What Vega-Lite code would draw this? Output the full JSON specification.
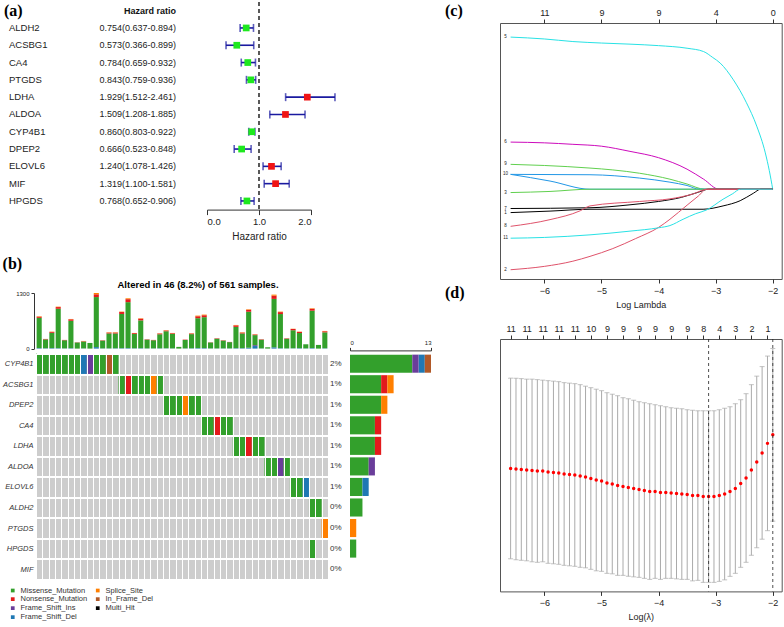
{
"$schema": "https://vega.github.io/schema/vega-lite/v6.json",
"padding": {"left": 2, "top": 1, "right": 1, "bottom": 1},
"background": "white",
"config": {
  "font": "Liberation Sans",
  "view": {"stroke": null},
  "axis": {"labelColor": "#222", "titleColor": "#222", "tickColor": "#333", "domainColor": "#333", "grid": false, "labelFont": "Liberation Sans", "titleFont": "Liberation Sans", "titleFontWeight": "normal"},
  "title": {"font": "Liberation Sans", "color": "black"}
},
"datasets": {
  "fp": [
    {"g": "ALDH2", "hr": 0.754, "lo": 0.637, "hi": 0.894, "txt": "0.754(0.637-0.894)"},
    {"g": "ACSBG1", "hr": 0.573, "lo": 0.366, "hi": 0.899, "txt": "0.573(0.366-0.899)"},
    {"g": "CA4", "hr": 0.784, "lo": 0.659, "hi": 0.932, "txt": "0.784(0.659-0.932)"},
    {"g": "PTGDS", "hr": 0.843, "lo": 0.759, "hi": 0.936, "txt": "0.843(0.759-0.936)"},
    {"g": "LDHA", "hr": 1.929, "lo": 1.512, "hi": 2.461, "txt": "1.929(1.512-2.461)"},
    {"g": "ALDOA", "hr": 1.509, "lo": 1.208, "hi": 1.885, "txt": "1.509(1.208-1.885)"},
    {"g": "CYP4B1", "hr": 0.860, "lo": 0.803, "hi": 0.922, "txt": "0.860(0.803-0.922)"},
    {"g": "DPEP2", "hr": 0.666, "lo": 0.523, "hi": 0.848, "txt": "0.666(0.523-0.848)"},
    {"g": "ELOVL6", "hr": 1.240, "lo": 1.078, "hi": 1.426, "txt": "1.240(1.078-1.426)"},
    {"g": "MIF", "hr": 1.319, "lo": 1.100, "hi": 1.581, "txt": "1.319(1.100-1.581)"},
    {"g": "HPGDS", "hr": 0.768, "lo": 0.652, "hi": 0.906, "txt": "0.768(0.652-0.906)"}
  ],
  "mx": [
    {"g": "CYP4B1", "s": 1, "t": "Missense_Mutation"},
    {"g": "CYP4B1", "s": 2, "t": "Missense_Mutation"},
    {"g": "CYP4B1", "s": 3, "t": "Missense_Mutation"},
    {"g": "CYP4B1", "s": 4, "t": "Missense_Mutation"},
    {"g": "CYP4B1", "s": 5, "t": "Missense_Mutation"},
    {"g": "CYP4B1", "s": 6, "t": "Missense_Mutation"},
    {"g": "CYP4B1", "s": 7, "t": "Missense_Mutation"},
    {"g": "CYP4B1", "s": 8, "t": "Frame_Shift_Del"},
    {"g": "CYP4B1", "s": 9, "t": "Frame_Shift_Ins"},
    {"g": "CYP4B1", "s": 10, "t": "Missense_Mutation"},
    {"g": "CYP4B1", "s": 11, "t": "Missense_Mutation"},
    {"g": "CYP4B1", "s": 12, "t": "In_Frame_Del"},
    {"g": "CYP4B1", "s": 13, "t": "Missense_Mutation"},
    {"g": "ACSBG1", "s": 14, "t": "Missense_Mutation"},
    {"g": "ACSBG1", "s": 15, "t": "Nonsense_Mutation"},
    {"g": "ACSBG1", "s": 16, "t": "Missense_Mutation"},
    {"g": "ACSBG1", "s": 17, "t": "Missense_Mutation"},
    {"g": "ACSBG1", "s": 18, "t": "Missense_Mutation"},
    {"g": "ACSBG1", "s": 19, "t": "Splice_Site"},
    {"g": "ACSBG1", "s": 20, "t": "Missense_Mutation"},
    {"g": "DPEP2", "s": 21, "t": "Missense_Mutation"},
    {"g": "DPEP2", "s": 22, "t": "Missense_Mutation"},
    {"g": "DPEP2", "s": 23, "t": "Missense_Mutation"},
    {"g": "DPEP2", "s": 24, "t": "Splice_Site"},
    {"g": "DPEP2", "s": 25, "t": "Missense_Mutation"},
    {"g": "DPEP2", "s": 26, "t": "Missense_Mutation"},
    {"g": "CA4", "s": 27, "t": "Missense_Mutation"},
    {"g": "CA4", "s": 28, "t": "Missense_Mutation"},
    {"g": "CA4", "s": 29, "t": "Nonsense_Mutation"},
    {"g": "CA4", "s": 30, "t": "Missense_Mutation"},
    {"g": "CA4", "s": 31, "t": "Missense_Mutation"},
    {"g": "LDHA", "s": 32, "t": "Missense_Mutation"},
    {"g": "LDHA", "s": 33, "t": "Missense_Mutation"},
    {"g": "LDHA", "s": 34, "t": "Nonsense_Mutation"},
    {"g": "LDHA", "s": 35, "t": "Missense_Mutation"},
    {"g": "LDHA", "s": 36, "t": "Missense_Mutation"},
    {"g": "ALDOA", "s": 37, "t": "Missense_Mutation"},
    {"g": "ALDOA", "s": 38, "t": "Missense_Mutation"},
    {"g": "ALDOA", "s": 39, "t": "Frame_Shift_Ins"},
    {"g": "ALDOA", "s": 40, "t": "Missense_Mutation"},
    {"g": "ELOVL6", "s": 41, "t": "Missense_Mutation"},
    {"g": "ELOVL6", "s": 42, "t": "Missense_Mutation"},
    {"g": "ELOVL6", "s": 43, "t": "Frame_Shift_Del"},
    {"g": "ALDH2", "s": 44, "t": "Missense_Mutation"},
    {"g": "ALDH2", "s": 45, "t": "Missense_Mutation"},
    {"g": "PTGDS", "s": 46, "t": "Splice_Site"},
    {"g": "HPGDS", "s": 44, "t": "Missense_Mutation"}
  ],
  "tb": [
    {"s": 1, "FSD": 12, "FSI": 0, "MIS": 707, "NON": 25, "SPL": 12},
    {"s": 2, "FSD": 8, "FSI": 0, "MIS": 208, "NON": 10, "SPL": 0},
    {"s": 3, "FSD": 12, "FSI": 0, "MIS": 357, "NON": 20, "SPL": 8},
    {"s": 4, "FSD": 10, "FSI": 0, "MIS": 921, "NON": 40, "SPL": 10},
    {"s": 5, "FSD": 5, "FSI": 0, "MIS": 190, "NON": 8, "SPL": 0},
    {"s": 6, "FSD": 10, "FSI": 0, "MIS": 640, "NON": 35, "SPL": 8},
    {"s": 7, "FSD": 0, "FSI": 0, "MIS": 143, "NON": 5, "SPL": 0},
    {"s": 8, "FSD": 5, "FSI": 0, "MIS": 161, "NON": 8, "SPL": 5},
    {"s": 9, "FSD": 0, "FSI": 0, "MIS": 132, "NON": 0, "SPL": 0},
    {"s": 10, "FSD": 35, "FSI": 0, "MIS": 1170, "NON": 65, "SPL": 30},
    {"s": 11, "FSD": 5, "FSI": 0, "MIS": 182, "NON": 8, "SPL": 0},
    {"s": 12, "FSD": 5, "FSI": 0, "MIS": 349, "NON": 20, "SPL": 8},
    {"s": 13, "FSD": 8, "FSI": 0, "MIS": 346, "NON": 20, "SPL": 8},
    {"s": 14, "FSD": 10, "FSI": 0, "MIS": 800, "NON": 45, "SPL": 10},
    {"s": 15, "FSD": 12, "FSI": 0, "MIS": 1074, "NON": 70, "SPL": 20},
    {"s": 16, "FSD": 8, "FSI": 0, "MIS": 333, "NON": 20, "SPL": 5},
    {"s": 17, "FSD": 10, "FSI": 0, "MIS": 649, "NON": 40, "SPL": 10},
    {"s": 18, "FSD": 5, "FSI": 0, "MIS": 205, "NON": 8, "SPL": 0},
    {"s": 19, "FSD": 5, "FSI": 0, "MIS": 190, "NON": 8, "SPL": 0},
    {"s": 20, "FSD": 8, "FSI": 0, "MIS": 327, "NON": 18, "SPL": 5},
    {"s": 21, "FSD": 8, "FSI": 0, "MIS": 400, "NON": 15, "SPL": 5},
    {"s": 22, "FSD": 5, "FSI": 0, "MIS": 341, "NON": 15, "SPL": 5},
    {"s": 23, "FSD": 0, "FSI": 0, "MIS": 40, "NON": 0, "SPL": 0},
    {"s": 24, "FSD": 5, "FSI": 0, "MIS": 197, "NON": 8, "SPL": 0},
    {"s": 25, "FSD": 8, "FSI": 0, "MIS": 330, "NON": 15, "SPL": 5},
    {"s": 26, "FSD": 12, "FSI": 0, "MIS": 699, "NON": 45, "SPL": 15},
    {"s": 27, "FSD": 12, "FSI": 0, "MIS": 723, "NON": 45, "SPL": 15},
    {"s": 28, "FSD": 5, "FSI": 0, "MIS": 138, "NON": 5, "SPL": 0},
    {"s": 29, "FSD": 5, "FSI": 0, "MIS": 226, "NON": 10, "SPL": 0},
    {"s": 30, "FSD": 5, "FSI": 0, "MIS": 182, "NON": 8, "SPL": 0},
    {"s": 31, "FSD": 5, "FSI": 0, "MIS": 146, "NON": 5, "SPL": 0},
    {"s": 32, "FSD": 10, "FSI": 0, "MIS": 498, "NON": 35, "SPL": 10},
    {"s": 33, "FSD": 10, "FSI": 0, "MIS": 344, "NON": 20, "SPL": 8},
    {"s": 34, "FSD": 20, "FSI": 0, "MIS": 842, "NON": 45, "SPL": 12},
    {"s": 35, "FSD": 60, "FSI": 20, "MIS": 235, "NON": 15, "SPL": 5},
    {"s": 36, "FSD": 5, "FSI": 0, "MIS": 203, "NON": 10, "SPL": 0},
    {"s": 37, "FSD": 0, "FSI": 0, "MIS": 31, "NON": 0, "SPL": 0},
    {"s": 38, "FSD": 30, "FSI": 0, "MIS": 1132, "NON": 75, "SPL": 25},
    {"s": 39, "FSD": 10, "FSI": 0, "MIS": 798, "NON": 45, "SPL": 12},
    {"s": 40, "FSD": 5, "FSI": 0, "MIS": 226, "NON": 10, "SPL": 0},
    {"s": 41, "FSD": 10, "FSI": 0, "MIS": 419, "NON": 30, "SPL": 8},
    {"s": 42, "FSD": 10, "FSI": 0, "MIS": 354, "NON": 25, "SPL": 8},
    {"s": 43, "FSD": 5, "FSI": 0, "MIS": 96, "NON": 0, "SPL": 0},
    {"s": 44, "FSD": 12, "FSI": 0, "MIS": 874, "NON": 45, "SPL": 12},
    {"s": 45, "FSD": 0, "FSI": 0, "MIS": 86, "NON": 0, "SPL": 0},
    {"s": 46, "FSD": 8, "FSI": 0, "MIS": 372, "NON": 25, "SPL": 8}
  ],
  "lasso": [
    {"v": "5", "x": -6.59, "y": 0.410}, {"v": "5", "x": -6.0, "y": 0.405}, {"v": "5", "x": -5.5, "y": 0.398}, {"v": "5", "x": -5.0, "y": 0.394}, {"v": "5", "x": -4.5, "y": 0.391}, {"v": "5", "x": -4.0, "y": 0.387}, {"v": "5", "x": -3.5, "y": 0.380}, {"v": "5", "x": -3.21, "y": 0.371}, {"v": "5", "x": -3.05, "y": 0.355}, {"v": "5", "x": -2.92, "y": 0.340}, {"v": "5", "x": -2.69, "y": 0.295}, {"v": "5", "x": -2.46, "y": 0.233}, {"v": "5", "x": -2.28, "y": 0.170}, {"v": "5", "x": -2.13, "y": 0.098}, {"v": "5", "x": -2.06, "y": 0.05}, {"v": "5", "x": -2.0, "y": 0},
    {"v": "6", "x": -6.59, "y": 0.127}, {"v": "6", "x": -6.0, "y": 0.125}, {"v": "6", "x": -5.5, "y": 0.121}, {"v": "6", "x": -5.0, "y": 0.116}, {"v": "6", "x": -4.5, "y": 0.102}, {"v": "6", "x": -4.0, "y": 0.085}, {"v": "6", "x": -3.5, "y": 0.054}, {"v": "6", "x": -3.21, "y": 0.027}, {"v": "6", "x": -2.94, "y": 0}, {"v": "6", "x": -2.0, "y": 0},
    {"v": "9", "x": -6.59, "y": 0.067}, {"v": "9", "x": -6.0, "y": 0.064}, {"v": "9", "x": -5.2, "y": 0.057}, {"v": "9", "x": -4.8, "y": 0.052}, {"v": "9", "x": -4.33, "y": 0.043}, {"v": "9", "x": -3.8, "y": 0.027}, {"v": "9", "x": -3.5, "y": 0.014}, {"v": "9", "x": -3.19, "y": 0}, {"v": "9", "x": -2.0, "y": 0},
    {"v": "10", "x": -6.59, "y": 0.040}, {"v": "10", "x": -5.2, "y": 0.039}, {"v": "10", "x": -4.33, "y": 0.030}, {"v": "10", "x": -3.8, "y": 0.019}, {"v": "10", "x": -3.5, "y": 0.010}, {"v": "10", "x": -3.28, "y": 0}, {"v": "10", "x": -2.0, "y": 0},
    {"v": "4", "x": -6.59, "y": 0.040}, {"v": "4", "x": -5.9, "y": 0.022}, {"v": "4", "x": -5.2, "y": 0}, {"v": "4", "x": -2.0, "y": 0},
    {"v": "3", "x": -6.59, "y": -0.009}, {"v": "3", "x": -5.9, "y": -0.006}, {"v": "3", "x": -5.2, "y": 0}, {"v": "3", "x": -2.0, "y": 0},
    {"v": "7", "x": -6.59, "y": -0.052}, {"v": "7", "x": -5.2, "y": -0.050}, {"v": "7", "x": -4.5, "y": -0.042}, {"v": "7", "x": -4.0, "y": -0.033}, {"v": "7", "x": -3.6, "y": -0.022}, {"v": "7", "x": -3.3, "y": -0.008}, {"v": "7", "x": -3.12, "y": 0}, {"v": "7", "x": -2.0, "y": 0},
    {"v": "1", "x": -6.59, "y": -0.063}, {"v": "1", "x": -5.9, "y": -0.059}, {"v": "1", "x": -5.2, "y": -0.054}, {"v": "1", "x": -3.22, "y": -0.054}, {"v": "1", "x": -2.87, "y": -0.045}, {"v": "1", "x": -2.57, "y": -0.031}, {"v": "1", "x": -2.34, "y": -0.011}, {"v": "1", "x": -2.21, "y": 0}, {"v": "1", "x": -2.0, "y": 0},
    {"v": "8", "x": -6.59, "y": -0.100}, {"v": "8", "x": -5.9, "y": -0.082}, {"v": "8", "x": -5.37, "y": -0.058}, {"v": "8", "x": -5.2, "y": -0.045}, {"v": "8", "x": -4.33, "y": -0.033}, {"v": "8", "x": -3.8, "y": -0.026}, {"v": "8", "x": -3.4, "y": -0.013}, {"v": "8", "x": -3.15, "y": 0}, {"v": "8", "x": -2.0, "y": 0},
    {"v": "2", "x": -6.59, "y": -0.217}, {"v": "2", "x": -6.0, "y": -0.208}, {"v": "2", "x": -5.5, "y": -0.194}, {"v": "2", "x": -5.2, "y": -0.181}, {"v": "2", "x": -4.8, "y": -0.160}, {"v": "2", "x": -4.4, "y": -0.133}, {"v": "2", "x": -4.0, "y": -0.103}, {"v": "2", "x": -3.8, "y": -0.081}, {"v": "2", "x": -3.5, "y": -0.043}, {"v": "2", "x": -3.3, "y": -0.018}, {"v": "2", "x": -3.16, "y": 0}, {"v": "2", "x": -2.0, "y": 0},
    {"v": "11", "x": -6.59, "y": -0.132}, {"v": "11", "x": -6.0, "y": -0.130}, {"v": "11", "x": -5.2, "y": -0.123}, {"v": "11", "x": -4.5, "y": -0.113}, {"v": "11", "x": -4.0, "y": -0.104}, {"v": "11", "x": -3.8, "y": -0.098}, {"v": "11", "x": -3.57, "y": -0.081}, {"v": "11", "x": -3.35, "y": -0.066}, {"v": "11", "x": -3.16, "y": -0.056}, {"v": "11", "x": -2.87, "y": -0.027}, {"v": "11", "x": -2.7, "y": -0.012}, {"v": "11", "x": -2.57, "y": 0}, {"v": "11", "x": -2.0, "y": 0}
  ],
  "cv": [
    {"x": -6.590, "m": 12.291, "lo": 12.111, "hi": 12.471},
    {"x": -6.496, "m": 12.290, "lo": 12.109, "hi": 12.471},
    {"x": -6.403, "m": 12.289, "lo": 12.108, "hi": 12.470},
    {"x": -6.309, "m": 12.288, "lo": 12.107, "hi": 12.469},
    {"x": -6.215, "m": 12.287, "lo": 12.105, "hi": 12.469},
    {"x": -6.122, "m": 12.286, "lo": 12.104, "hi": 12.468},
    {"x": -6.028, "m": 12.286, "lo": 12.105, "hi": 12.467},
    {"x": -5.934, "m": 12.284, "lo": 12.102, "hi": 12.466},
    {"x": -5.840, "m": 12.283, "lo": 12.101, "hi": 12.465},
    {"x": -5.747, "m": 12.282, "lo": 12.100, "hi": 12.464},
    {"x": -5.653, "m": 12.280, "lo": 12.098, "hi": 12.462},
    {"x": -5.559, "m": 12.279, "lo": 12.097, "hi": 12.461},
    {"x": -5.466, "m": 12.278, "lo": 12.096, "hi": 12.460},
    {"x": -5.372, "m": 12.276, "lo": 12.094, "hi": 12.458},
    {"x": -5.278, "m": 12.274, "lo": 12.093, "hi": 12.455},
    {"x": -5.185, "m": 12.271, "lo": 12.090, "hi": 12.452},
    {"x": -5.091, "m": 12.268, "lo": 12.087, "hi": 12.449},
    {"x": -4.997, "m": 12.266, "lo": 12.086, "hi": 12.446},
    {"x": -4.903, "m": 12.262, "lo": 12.082, "hi": 12.442},
    {"x": -4.810, "m": 12.260, "lo": 12.081, "hi": 12.439},
    {"x": -4.716, "m": 12.257, "lo": 12.078, "hi": 12.436},
    {"x": -4.622, "m": 12.255, "lo": 12.078, "hi": 12.432},
    {"x": -4.529, "m": 12.253, "lo": 12.076, "hi": 12.430},
    {"x": -4.435, "m": 12.251, "lo": 12.075, "hi": 12.427},
    {"x": -4.341, "m": 12.249, "lo": 12.074, "hi": 12.424},
    {"x": -4.248, "m": 12.247, "lo": 12.072, "hi": 12.422},
    {"x": -4.154, "m": 12.245, "lo": 12.070, "hi": 12.420},
    {"x": -4.060, "m": 12.245, "lo": 12.072, "hi": 12.418},
    {"x": -3.966, "m": 12.243, "lo": 12.070, "hi": 12.416},
    {"x": -3.873, "m": 12.243, "lo": 12.072, "hi": 12.414},
    {"x": -3.779, "m": 12.242, "lo": 12.072, "hi": 12.412},
    {"x": -3.685, "m": 12.241, "lo": 12.071, "hi": 12.411},
    {"x": -3.592, "m": 12.240, "lo": 12.070, "hi": 12.410},
    {"x": -3.498, "m": 12.239, "lo": 12.070, "hi": 12.408},
    {"x": -3.404, "m": 12.237, "lo": 12.067, "hi": 12.407},
    {"x": -3.311, "m": 12.237, "lo": 12.068, "hi": 12.406},
    {"x": -3.217, "m": 12.235, "lo": 12.064, "hi": 12.406},
    {"x": -3.123, "m": 12.235, "lo": 12.064, "hi": 12.406},
    {"x": -3.029, "m": 12.235, "lo": 12.064, "hi": 12.406},
    {"x": -2.936, "m": 12.237, "lo": 12.066, "hi": 12.408},
    {"x": -2.842, "m": 12.240, "lo": 12.069, "hi": 12.411},
    {"x": -2.748, "m": 12.245, "lo": 12.076, "hi": 12.414},
    {"x": -2.655, "m": 12.251, "lo": 12.082, "hi": 12.420},
    {"x": -2.561, "m": 12.261, "lo": 12.094, "hi": 12.428},
    {"x": -2.467, "m": 12.272, "lo": 12.104, "hi": 12.440},
    {"x": -2.374, "m": 12.288, "lo": 12.118, "hi": 12.458},
    {"x": -2.280, "m": 12.304, "lo": 12.133, "hi": 12.475},
    {"x": -2.186, "m": 12.322, "lo": 12.150, "hi": 12.494},
    {"x": -2.092, "m": 12.341, "lo": 12.167, "hi": 12.515},
    {"x": -1.999, "m": 12.358, "lo": 12.186, "hi": 12.530}
  ]
},
"spacing": 12,
"resolve": {"scale": {"color": "independent"}, "legend": {"color": "independent"}},
"hconcat": [
  {
    "spacing": 13,
    "resolve": {"scale": {"color": "independent"}, "legend": {"color": "independent"}},
    "vconcat": [
      {
        "bounds": "flush",
        "spacing": 31,
        "hconcat": [
          {
            "width": 140,
            "height": 207.6,
            "data": {"name": "fp"},
            "layer": [
              {
                "mark": {"type": "text", "align": "left", "fontSize": 9.5, "color": "#222"},
                "encoding": {
                  "x": {"datum": "gene", "type": "nominal", "scale": {"type": "point", "domain": ["gene", "hr"], "range": [-27, 140], "padding": 0}, "axis": null},
                  "y": {"field": "g", "type": "nominal", "scale": {"type": "point", "padding": 0.5, "domain": ["H", "ALDH2", "ACSBG1", "CA4", "PTGDS", "LDHA", "ALDOA", "CYP4B1", "DPEP2", "ELOVL6", "MIF", "HPGDS"]}, "axis": null},
                  "text": {"field": "g"}
                }
              },
              {
                "mark": {"type": "text", "align": "right", "fontSize": 9, "color": "#222"},
                "encoding": {
                  "x": {"datum": "hr", "type": "nominal", "axis": null},
                  "y": {"field": "g", "type": "nominal", "axis": null},
                  "text": {"field": "txt"}
                }
              },
              {
                "data": {"values": [{"lab": "Hazard ratio"}]},
                "mark": {"type": "text", "align": "right", "fontSize": 9, "fontWeight": "bold", "color": "#111"},
                "encoding": {
                  "x": {"datum": "hr", "type": "nominal", "axis": null},
                  "y": {"datum": "H", "type": "nominal", "axis": null},
                  "text": {"field": "lab"}
                }
              },
              {
                "data": {"values": [{"lab": "(a)"}]},
                "mark": {"type": "text", "align": "left", "dx": -5, "fontSize": 16, "fontWeight": "bold", "font": "Liberation Serif", "color": "black"},
                "encoding": {
                  "x": {"datum": "gene", "type": "nominal", "axis": null},
                  "y": {"datum": "H", "type": "nominal", "axis": null},
                  "text": {"field": "lab"}
                }
              }
            ]
          },
          {
            "width": 104,
            "height": 207.6,
            "data": {"name": "fp"},
            "layer": [
              {
                "data": {"values": [{"ref": 1}]},
                "mark": {"type": "rule", "strokeDash": [4, 3], "strokeWidth": 1.3, "color": "black"},
                "encoding": {
                  "x": {"field": "ref", "type": "quantitative", "scale": {"domain": [0, 2], "nice": false, "zero": false}, "axis": {"values": [0, 0.5, 1, 1.5, 2], "format": ".1f", "labelOverlap": false, "title": "Hazard ratio", "labelFontSize": 9.5, "titleFontSize": 10, "tickSize": 5, "labelPadding": 2, "titlePadding": 5}}
                }
              },
              {
                "mark": {"type": "rule", "color": "#1A1AA0", "strokeWidth": 1.6},
                "encoding": {
                  "x": {"field": "lo", "type": "quantitative"},
                  "x2": {"field": "hi"},
                  "y": {"field": "g", "type": "nominal", "scale": {"type": "point", "padding": 0.5, "domain": ["H", "ALDH2", "ACSBG1", "CA4", "PTGDS", "LDHA", "ALDOA", "CYP4B1", "DPEP2", "ELOVL6", "MIF", "HPGDS"]}, "axis": null}
                }
              },
              {
                "mark": {"type": "tick", "orient": "vertical", "color": "#1A1AA0", "size": 8, "thickness": 1.6},
                "encoding": {
                  "x": {"field": "lo", "type": "quantitative"},
                  "y": {"field": "g", "type": "nominal"}
                }
              },
              {
                "mark": {"type": "tick", "orient": "vertical", "color": "#1A1AA0", "size": 8, "thickness": 1.6},
                "encoding": {
                  "x": {"field": "hi", "type": "quantitative"},
                  "y": {"field": "g", "type": "nominal"}
                }
              },
              {
                "mark": {"type": "square", "size": 45, "filled": true, "opacity": 1},
                "encoding": {
                  "x": {"field": "hr", "type": "quantitative"},
                  "y": {"field": "g", "type": "nominal"},
                  "color": {"condition": {"test": "datum.hr < 1", "value": "#1EE81E"}, "value": "#F01414"}
                }
              }
            ]
          }
        ]
      },
      {
        "title": {"text": "(b)", "anchor": "start", "font": "Liberation Serif", "fontSize": 16, "fontWeight": "bold", "offset": 8, "color": "black"},
        "columns": 2,
        "bounds": "flush",
        "spacing": {"row": 4.4, "column": 22},
        "resolve": {"scale": {"color": "independent"}, "legend": {"color": "independent"}},
        "concat": [
          {
            "width": 292,
            "height": 55.6,
            "title": {"text": "Altered in 46 (8.2%) of 561 samples.", "fontSize": 9.5, "fontWeight": "bold", "anchor": "middle", "dx": 16, "offset": 1, "color": "black"},
            "data": {"name": "tb"},
            "transform": [{"fold": ["FSD", "FSI", "MIS", "NON", "SPL"], "as": ["t", "n"]}],
            "mark": {"type": "bar"},
            "encoding": {
              "x": {"field": "s", "type": "ordinal", "scale": {"paddingInner": 0.2, "paddingOuter": 0.1}, "axis": null},
              "y": {"field": "n", "type": "quantitative", "aggregate": "sum", "scale": {"domain": [0, 1300], "nice": false}, "axis": {"values": [0, 1300], "format": "d", "title": null, "labelFontSize": 6, "tickSize": 3, "labelPadding": 2, "domain": true, "offset": 2}},
              "color": {"field": "t", "type": "nominal", "scale": {"domain": ["FSD", "FSI", "MIS", "NON", "SPL"], "range": ["#1F78B4", "#6A3D9A", "#33A02C", "#E31A1C", "#FF7F00"]}, "legend": null},
              "order": {"field": "t", "type": "nominal", "sort": "ascending"}
            }
          },
          {
            "width": 81,
            "height": 55.6,
            "data": {"values": []},
            "mark": "point"
          },
          {
            "width": 292,
            "height": 226,
            "view": {"fill": "#CDCDCD", "stroke": null},
            "data": {"name": "mx"},
            "mark": {"type": "rect"},
            "encoding": {
              "x": {"field": "s", "type": "ordinal", "scale": {"paddingInner": 0, "paddingOuter": 0}, "axis": {"title": null, "labels": false, "ticks": false, "domain": false, "grid": true, "gridColor": "white", "gridWidth": 1, "tickBand": "extent", "zindex": 1}},
              "y": {"field": "g", "type": "nominal", "scale": {"domain": ["CYP4B1", "ACSBG1", "DPEP2", "CA4", "LDHA", "ALDOA", "ELOVL6", "ALDH2", "PTGDS", "HPGDS", "MIF"], "paddingInner": 0, "paddingOuter": 0}, "axis": {"title": null, "domain": false, "ticks": false, "grid": true, "gridColor": "white", "gridWidth": 2, "tickBand": "extent", "zindex": 1, "labelFontStyle": "italic", "labelFontSize": 7.5, "labelPadding": 3, "labelColor": "#333"}},
              "color": {
                "field": "t", "type": "nominal",
                "scale": {"domain": ["Missense_Mutation", "Nonsense_Mutation", "Frame_Shift_Ins", "Frame_Shift_Del", "Splice_Site", "In_Frame_Del", "Multi_Hit"], "range": ["#33A02C", "#E31A1C", "#6A3D9A", "#1F78B4", "#FF7F00", "#B15928", "#000000"]},
                "legend": {"title": null, "orient": "none", "legendX": -27, "legendY": 233, "columns": 2, "symbolType": "square", "symbolSize": 14, "symbolStrokeWidth": 0, "labelFontSize": 7.5, "labelColor": "#333", "rowPadding": 0, "columnPadding": 6, "labelOffset": 4}
              }
            }
          },
          {
            "width": 81,
            "height": 226,
            "data": {"name": "mx"},
            "transform": [{"calculate": "indexof(['Missense_Mutation','Nonsense_Mutation','Splice_Site','Frame_Shift_Ins','Frame_Shift_Del','In_Frame_Del'], datum.t)", "as": "k"}],
            "mark": {"type": "bar"},
            "encoding": {
              "y": {"field": "g", "type": "nominal", "scale": {"domain": ["CYP4B1", "ACSBG1", "DPEP2", "CA4", "LDHA", "ALDOA", "ELOVL6", "ALDH2", "PTGDS", "HPGDS", "MIF"], "paddingInner": 0.12, "paddingOuter": 0.06}, "axis": {"title": null, "domain": false, "ticks": false, "labelFontSize": 8, "labelPadding": 9, "labelColor": "#333", "labelExpr": "datum.value == 'CYP4B1' ? '2%' : (indexof(['ALDH2','PTGDS','HPGDS','MIF'], datum.value) >= 0 ? '0%' : '1%')"}},
              "x": {"aggregate": "count", "type": "quantitative", "scale": {"domain": [0, 13], "nice": false}, "axis": {"orient": "top", "values": [0, 13], "title": null, "labelFontSize": 6, "tickSize": 3, "labelPadding": 2, "offset": 3, "domain": true}},
              "color": {"field": "t", "type": "nominal", "scale": {"domain": ["Missense_Mutation", "Nonsense_Mutation", "Splice_Site", "Frame_Shift_Ins", "Frame_Shift_Del", "In_Frame_Del"], "range": ["#33A02C", "#E31A1C", "#FF7F00", "#6A3D9A", "#1F78B4", "#B15928"]}, "legend": null},
              "order": {"field": "k", "type": "quantitative", "sort": "ascending"}
            }
          }
        ]
      }
    ]
  },
  {
    "bounds": "flush",
    "spacing": 20,
    "resolve": {"scale": {"color": "independent"}, "legend": {"color": "independent"}},
    "vconcat": [
      {
        "width": 281.7,
        "height": 1,
        "data": {"values": [{"lab": "(c)"}]},
        "mark": {"type": "text", "align": "left", "baseline": "top", "fontSize": 16, "fontWeight": "bold", "font": "Liberation Serif", "color": "black"},
        "encoding": {
          "x": {"datum": -7.739, "type": "quantitative", "scale": {"domain": [-6.776, -1.843], "nice": false, "zero": false}, "axis": null},
          "text": {"field": "lab"}
        }
      },
      {
        "width": 281.7,
        "height": 256,
        "view": {"stroke": "#555", "strokeWidth": 1},
        "data": {"name": "lasso"},
        "resolve": {"axis": {"x": "independent"}},
        "layer": [
          {
            "mark": {"type": "line", "strokeWidth": 1, "interpolate": "monotone"},
            "encoding": {
              "x": {"field": "x", "type": "quantitative", "scale": {"domain": [-6.776, -1.843], "nice": false, "zero": false}, "axis": {"values": [-6, -5, -4, -3, -2], "title": "Log Lambda", "labelFontSize": 9, "titleFontSize": 9, "tickSize": 4, "domain": false, "labelPadding": 3, "titlePadding": 5}},
              "y": {"field": "y", "type": "quantitative", "scale": {"domain": [-0.242, 0.448], "nice": false, "zero": false}, "axis": {"values": [-0.2, -0.1, 0, 0.1, 0.2, 0.3, 0.4], "format": ".1f", "labelAngle": -90, "labelAlign": "center", "labelBaseline": "bottom", "title": "Coefficients", "labelFontSize": 9, "titleFontSize": 9, "tickSize": 4, "domain": false, "labelPadding": 3, "titlePadding": 8}},
              "color": {"field": "v", "type": "nominal", "scale": {"domain": ["1", "2", "3", "4", "5", "6", "7", "8", "9", "10", "11"], "range": ["#000000", "#DF536B", "#61D04F", "#2297E6", "#28E2E5", "#CD0BBC", "#000000", "#DF536B", "#61D04F", "#2297E6", "#28E2E5"]}, "legend": null}
            }
          },
          {
            "transform": [{"filter": "datum.x < -6.5 && datum.v != '4'"}],
            "mark": {"type": "text", "fontSize": 4.5, "dx": -5, "color": "#222"},
            "encoding": {
              "x": {"field": "x", "type": "quantitative", "axis": {"orient": "top", "values": [-6, -5, -4, -3, -2], "labelExpr": "datum.value < -5.5 ? '11' : datum.value < -3.5 ? '9' : datum.value < -2.5 ? '4' : '0'", "title": null, "labelFontSize": 9, "tickSize": 4, "domain": false, "labelPadding": 2}},
              "y": {"field": "y", "type": "quantitative", "axis": null},
              "text": {"field": "v"}
            }
          },
          {
            "data": {"values": [{"lab": "(d)"}]},
            "mark": {"type": "text", "align": "left", "baseline": "top", "fontSize": 16, "fontWeight": "bold", "font": "Liberation Serif", "color": "black"},
            "encoding": {
              "x": {"datum": -7.739, "type": "quantitative", "axis": null},
              "y": {"datum": -0.2581, "type": "quantitative", "axis": null},
              "text": {"field": "lab"}
            }
          }
        ]
      },
      {
        "width": 281.7,
        "height": 19.3,
        "data": {"values": []},
        "mark": "point"
      },
      {
        "width": 281.7,
        "height": 252.4,
        "view": {"stroke": "#555", "strokeWidth": 1},
        "data": {"name": "cv"},
        "resolve": {"axis": {"x": "independent"}},
        "layer": [
          {
            "mark": {"type": "rule", "color": "#AAAAAA", "strokeWidth": 1},
            "encoding": {
              "x": {"field": "x", "type": "quantitative", "scale": {"domain": [-6.776, -1.843], "nice": false, "zero": false}, "axis": {"values": [-6, -5, -4, -3, -2], "title": "Log(λ)", "labelFontSize": 9, "titleFontSize": 9, "tickSize": 4, "domain": false, "labelPadding": 3, "titlePadding": 5}},
              "y": {"field": "lo", "type": "quantitative", "scale": {"domain": [12.046, 12.549], "nice": false, "zero": false}, "axis": {"values": [12.1, 12.2, 12.3, 12.4, 12.5], "format": ".1f", "labelAngle": -90, "labelAlign": "center", "labelBaseline": "bottom", "title": "Partial Likelihood Deviance", "labelFontSize": 9, "titleFontSize": 9, "tickSize": 4, "domain": false, "labelPadding": 3, "titlePadding": 8}},
              "y2": {"field": "hi"}
            }
          },
          {
            "mark": {"type": "tick", "orient": "horizontal", "color": "#AAAAAA", "size": 5, "thickness": 1},
            "encoding": {
              "x": {"field": "x", "type": "quantitative", "axis": null},
              "y": {"field": "hi", "type": "quantitative", "axis": null}
            }
          },
          {
            "mark": {"type": "tick", "orient": "horizontal", "color": "#AAAAAA", "size": 5, "thickness": 1},
            "encoding": {
              "x": {"field": "x", "type": "quantitative", "axis": null},
              "y": {"field": "lo", "type": "quantitative", "axis": null}
            }
          },
          {
            "mark": {"type": "circle", "size": 12, "color": "#FF0000", "opacity": 1},
            "encoding": {
              "x": {"field": "x", "type": "quantitative", "axis": null},
              "y": {"field": "m", "type": "quantitative", "axis": null}
            }
          },
          {
            "data": {"values": [{"lam": "min", "x": -3.123}, {"lam": "1se", "x": -1.999}]},
            "mark": {"type": "rule", "strokeDash": [3, 3], "color": "#222", "strokeWidth": 0.8},
            "encoding": {
              "x": {"field": "x", "type": "quantitative", "axis": {"orient": "top", "values": [-6.59, -6.309, -6.028, -5.747, -5.466, -5.185, -4.903, -4.622, -4.341, -4.06, -3.779, -3.498, -3.217, -2.936, -2.655, -2.374, -2.092], "labelExpr": "datum.value < -5.3 ? '11' : datum.value < -5.0 ? '10' : datum.value < -3.3 ? '9' : datum.value < -3.0 ? '8' : datum.value < -2.8 ? '4' : datum.value < -2.5 ? '3' : datum.value < -2.2 ? '2' : '1'", "title": null, "labelFontSize": 9, "tickSize": 4, "domain": false, "labelPadding": 2}}
            }
          }
        ]
      }
    ]
  }
]
}
